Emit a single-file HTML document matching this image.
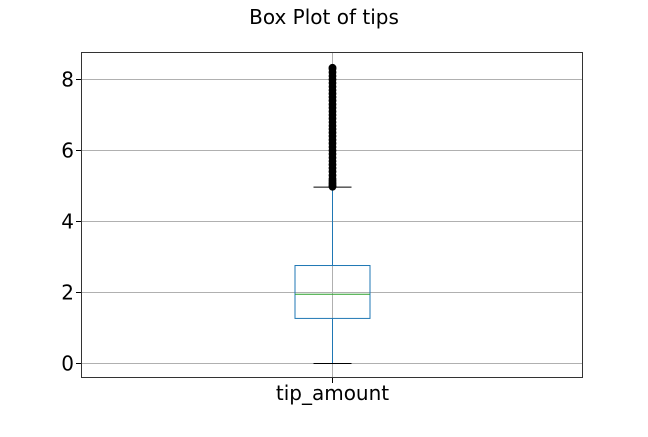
<!DOCTYPE html>
<html><head><meta charset="utf-8"><style>
body{margin:0;background:#fff;width:648px;height:432px;overflow:hidden}
text{font-family:"DejaVu Sans","Liberation Sans",sans-serif}
</style></head><body>
<svg id="chart" width="648" height="432">
<text x="324" y="24" font-size="20" text-anchor="middle">Box Plot of tips</text>
<g id="grid"></g>
<g id="marks"></g>
<rect x="81.5" y="52.5" width="501" height="325" fill="none" stroke="#333" stroke-width="1"/>
<g id="axes"></g>
</svg>
<script>
const categories = ["tip_amount"];
const boxStats = [0, 1.27, 1.95, 2.76, 4.97]; // whisker low, q1, median, q3, whisker high
const fliers = [4.98,5.0,5.05,5.1,5.15,5.2,5.3,5.4,5.5,5.6,5.7,5.8,5.9,6.0,6.1,6.2,6.3,6.4,6.5,6.6,6.7,6.8,6.9,7.0,7.1,7.2,7.3,7.4,7.5,7.6,7.7,7.8,7.9,8.0,8.1,8.2,8.3,8.33];
const yTicks = [0, 2, 4, 6, 8];

const NS = "http://www.w3.org/2000/svg";
const y = v => 363.5 - 35.5 * v;
const x = i => 332.5 + i * 0;
function mk(tag, attrs, parent){const e=document.createElementNS(NS,tag);for(const k in attrs)e.setAttribute(k,attrs[k]);parent.appendChild(e);return e;}
const grid=document.getElementById('grid'), marks=document.getElementById('marks'), axes=document.getElementById('axes');

yTicks.forEach(t=>{
  const g=mk('line',{x1:81,x2:583,y1:y(t),y2:y(t),stroke:'#b0b0b0','stroke-width':1},grid);
  
  
  const tk=mk('line',{x1:76,x2:81,y1:y(t),y2:y(t),stroke:'#000'},axes);
  
  
  const lb=mk('text',{x:74,y:y(t)+7,'font-size':20,'text-anchor':'end'},axes);
  lb.textContent=t;
  
  
});
categories.forEach((c,i)=>{
  const cx=x(i);
  const vg=mk('line',{x1:cx,x2:cx,y1:52,y2:378,stroke:'#b0b0b0'},grid);
  
  
  const [lo,q1,med,q3,hi]=boxStats;
  const w1=mk('line',{x1:cx,x2:cx,y1:y(q1),y2:y(lo),stroke:'#1f77b4'},marks);
  
  
  const w2=mk('line',{x1:cx,x2:cx,y1:y(q3),y2:y(hi),stroke:'#1f77b4'},marks);
  
  
  const c1=mk('line',{x1:cx-19,x2:cx+19,y1:y(lo),y2:y(lo),stroke:'#000'},marks);
  
  
  fliers.forEach(f=>{
    const p=mk('circle',{cx:cx,cy:y(f),r:3.3,fill:'#000',stroke:'#000','stroke-width':1.2},marks);
    
    
  });
  const c2=mk('line',{x1:cx-19,x2:cx+19,y1:y(hi),y2:y(hi),stroke:'#000'},marks);
  
  
  const b=mk('rect',{x:cx-37.5,y:y(q3),width:75,height:y(q1)-y(q3),fill:'none',stroke:'#1f77b4'},marks);
  
  
  const m=mk('line',{x1:cx-37.5,x2:cx+37.5,y1:y(med),y2:y(med),stroke:'#2ca02c'},marks);
  
  
  const xt=mk('line',{x1:cx,x2:cx,y1:378,y2:383,stroke:'#000'},axes);
  
  
  const xl=mk('text',{x:cx,y:400,'font-size':20,'text-anchor':'middle'},axes);
  xl.textContent=c;
  
  
});
</script>
</body></html>
